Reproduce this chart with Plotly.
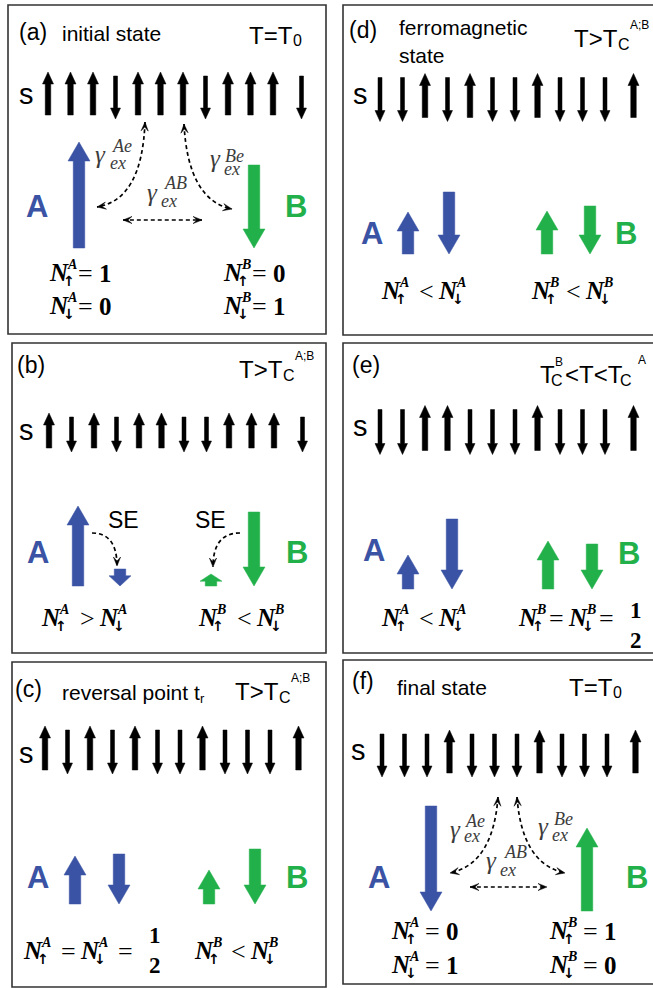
import plotly.graph_objects as go

# ---------------- data ----------------
PANEL_LABELS = ["(a)", "(b)", "(c)", "(d)", "(e)", "(f)"]
PANEL_TITLES = [["initial state"], [], ["reversal point t"], ["ferromagnetic", "state"], [], ["final state"]]
TEMPERATURE = ["T0", "Tc", "Tc", "Tc", "TcBA", "T0"]
SPIN_ROWS = ["↑↑↑↓↑↑↑↓↑↑↑↓",
             "↑↓↑↓↑↑↓↓↑↑↑↓",
             "↑↓↑↓↑↓↓↑↓↓↓↑",
             "↓↓↑↓↑↓↓↑↓↓↓↑",
             "↓↓↑↑↓↓↓↑↓↓↓↑",
             "↓↓↓↑↓↓↓↑↓↓↓↑"]
# lengths of the sublattice moment arrows (px)
A_UP = [106, 80, 48, 42, 34, 0]
A_DOWN = [0, 17, 50, 62, 70, 105]
B_UP = [0, 12, 34, 43, 48, 83]
B_DOWN = [83, 74, 55, 48, 45, 0]
EQ_A = [["N A ↑ = 1", "N A ↓ = 0"], ["N A ↑ > N A ↓"], ["N A ↑ = N A ↓ = 1/2"],
        ["N A ↑ < N A ↓"], ["N A ↑ < N A ↓"], ["N A ↑ = 0", "N A ↓ = 1"]]
EQ_B = [["N B ↑ = 0", "N B ↓ = 1"], ["N B ↑ < N B ↓"], ["N B ↑ < N B ↓"],
        ["N B ↑ < N B ↓"], ["N B ↑ = N B ↓ = 1/2"], ["N B ↑ = 1", "N B ↓ = 0"]]
EXCHANGE = ["Ae", "Be", "AB"]

# ---------------- layout (pixel positions) ----------------
LAYOUT = [
    dict(box=(8, 5, 326, 334), label=(17, 32), titles=[(60, 33)], temp=(247, 35), spin=(48, 95.5, 43), s=(26, 96),
         base=248, ax=(79, None, None, 254), letters=((37, 206), (296, 206)),
         eqA=(48, [272.5, 305.5]), eqB=(222, [272.5, 305.5]), spA=9, spB=9, fdy=0),
    dict(box=(12, 343, 326, 653), label=(15, 365), titles=[], temp=(237, 369.5), spin=(49, 432.5, 35), s=(26, 432),
         base=586, ax=(78, 120, 211, 254), letters=((38, 552), (297, 552)),
         eqA=(40, [617.5]), eqB=(197, [617.5]), spA=19, spB=19, fdy=0),
    dict(box=(12, 662, 326, 987), label=(13, 689), titles=[(60, 692.5)], temp=(233, 691.5), spin=(45, 750, 44), s=(26, 755),
         base=904, ax=(75, 119, 209, 255), letters=((38, 877), (297, 877)),
         eqA=(22, [950.5]), eqB=(193, [950.5]), spA=18, spB=17, fdy=0),
    dict(box=(343, 5, 662, 335), label=(347, 30), titles=[(397, 27.5), (397, 55.5)], temp=(572, 38.5), spin=(380, 97.5, 44),
         s=(360, 96), base=254, ax=(408, 449, 547, 590), letters=((372, 233), (626, 233)),
         eqA=(380, [290.5]), eqB=(530, [290.5]), spA=18, spB=15, fdy=0),
    dict(box=(343, 343, 662, 653), label=(350, 365), titles=[], temp=(538, 374), spin=(380, 430, 45), s=(360, 428),
         base=589, ax=(408, 452, 548, 592), letters=((374, 550), (629, 553)),
         eqA=(380, [617.5]), eqB=(517, [617.5]), spA=18, spB=11, fdy=8),
    dict(box=(343, 660, 662, 984), label=(350, 681), titles=[(395, 687.5)], temp=(567, 687), spin=(382, 753.5, 43),
         s=(358, 752), base=911, ax=(None, 431, 587, None), letters=((379, 877), (637, 877)),
         eqA=(390, [930.5, 964.5]), eqB=(548, [930.5, 964.5]), spA=14, spB=14, fdy=0),
]
# exchange labels: (gamma right x, gamma glyph centre y, sup x, sup y, sub x, sub y)
GAMMA_POS = {0: [(107, 159.5, 110, 146, 108, 165), (222, 164, 223, 156, 222, 171), (159, 197.5, 162, 182.5, 159, 203)],
             5: [(462, 835, 463, 821, 462, 838), (550, 832, 552, 819, 550, 837), (498, 866, 502, 852, 498, 872)]}
# dashed curves: (start, control, end, head at start, head at end)
DASHES = {0: [((145, 122), (142, 200), (97, 207), True, True),
              ((184, 124), (188, 200), (232, 209), True, True),
              ((123, 220), (162, 220), (202, 220), True, True)],
          5: [((498, 797), (493, 864), (450, 873), True, True),
              ((517, 797), (522, 864), (565, 873), True, True),
              ((470, 887), (508, 887), (547, 887), True, True)],
          1: [((92, 533), (117, 533), (117, 566), False, True),
              ((240, 533), (213, 533), (213, 567), False, True)]}
SE_POS = [(123, 520), (210, 520)]

BLUE = "#3a53a4"
GREEN = "#22b04b"
SANS = "Liberation Sans, Arial, sans-serif"
SERIF = "Liberation Serif, Times New Roman, serif"
ARROWF = "DejaVu Sans, sans-serif"

shapes, anns = [], []


def text(x, y, s, size, color="black", family=SANS, xa="left", ya="middle"):
    anns.append(dict(x=x, y=y, xref="x", yref="y", text=s, showarrow=False,
                     font=dict(size=size, color=color, family=family), xanchor=xa, yanchor=ya))


def poly(pts, color):
    path = "M " + " L ".join(f"{x:.2f},{y:.2f}" for x, y in pts) + " Z"
    shapes.append(dict(type="path", path=path, xref="x", yref="y", fillcolor=color,
                       line=dict(color=color, width=0.5)))


def block_arrow(xc, y_tail, y_tip, sw, hw, hl, color):
    s = 1 if y_tip > y_tail else -1
    hl = min(hl, 0.6 * abs(y_tip - y_tail))
    yb = y_tip - s * hl
    poly([(xc - sw / 2, y_tail), (xc - sw / 2, yb), (xc - hw / 2, yb), (xc, y_tip),
          (xc + hw / 2, yb), (xc + sw / 2, yb), (xc + sw / 2, y_tail)], color)


def stealth(tip, frm):
    dx, dy = tip[0] - frm[0], tip[1] - frm[1]
    n = (dx * dx + dy * dy) ** 0.5
    ux, uy = dx / n, dy / n
    px, py = -uy, ux
    L, w = 9, 3.6
    poly([tip, (tip[0] - L * ux + w * px, tip[1] - L * uy + w * py),
          (tip[0] - 0.55 * L * ux, tip[1] - 0.55 * L * uy),
          (tip[0] - L * ux - w * px, tip[1] - L * uy - w * py)], "black")


def draw_eq(x0, yc, s, sp, fdy):
    toks = s.split()
    i, x, cursor = 0, x0, x0
    while i < len(toks):
        t = toks[i]
        if t == "N":
            text(x - 1, yc, "<b><i>N</i></b>", 25, family=SERIF)
            text(x + 24, yc - 8, f"<b><i>{toks[i + 1]}</i></b>", 14, family=SERIF, xa="center")
            text(x + 21, yc + 8.5, f"<b>{toks[i + 2]}</b>", 14, family=ARROWF, xa="center")
            cursor = x + 28
            i += 3
        else:
            opx = cursor + sp
            text(opx, yc + 1, t, 26, family=SERIF, xa="center")
            nxt = toks[i + 1]
            if nxt == "N":
                x = opx + 11
                i += 1
            elif nxt == "1/2":
                fx = opx + 30
                text(fx, yc - 15 + fdy, "<b>1</b>", 23, family=SERIF, xa="center")
                text(fx, yc + 15 + fdy, "<b>2</b>", 23, family=SERIF, xa="center")
                i += 2
            else:
                text(opx + 20, yc + 1, f"<b>{nxt}</b>", 25, family=SERIF, xa="center")
                i += 2


for k, L in enumerate(LAYOUT):
    x0, y0, x1, y1 = L["box"]
    shapes.append(dict(type="rect", x0=x0, y0=y0, x1=x1, y1=y1, xref="x", yref="y",
                       line=dict(color="#333333", width=1.6), fillcolor="rgba(0,0,0,0)"))
    # header
    text(L["label"][0], L["label"][1], PANEL_LABELS[k], 23)
    for (tx, ty), t in zip(L["titles"], PANEL_TITLES[k]):
        text(tx, ty, t, 21)
    if k == 2:
        tx, ty = L["titles"][0]
        text(tx + 138, ty + 6, "r", 13)
    tx, ty = L["temp"]
    kind = TEMPERATURE[k]
    if kind == "T0":
        text(tx, ty, "T=T", 24)
        text(tx + 44, ty + 5, "0", 16)
    elif kind == "Tc":
        text(tx, ty, "T>T", 24)
        text(tx + 43.5, ty + 6, "C", 16)
        text(tx + 56, ty - 14, "A;B", 12)
    else:
        text(tx, ty, "T", 24)
        text(tx + 11, ty + 6, "C", 16)
        text(tx + 15, ty - 12, "B", 12)
        text(tx + 25, ty, "&lt;T&lt;T", 24)
        text(tx + 80, ty + 6, "C", 16)
        text(tx + 98, ty - 14, "A", 12)
    # spin row
    sx0, syc, sl = L["spin"]
    text(L["s"][0], L["s"][1] - 2.5, "s", 29, xa="center")
    for i, c in enumerate(SPIN_ROWS[k]):
        xc = sx0 + i * 22.5 + (6 if i == 11 else 0)
        if c == "↑":
            block_arrow(xc, syc + sl / 2 - 2, syc - sl / 2 - 2, 5.5, 11, 12, "black")
        else:
            block_arrow(xc, syc - sl / 2 + 2, syc + sl / 2 + 2, 4, 10, 11, "black")
    # sublattice moments
    b = L["base"]
    lens = [A_UP[k], A_DOWN[k], B_UP[k], B_DOWN[k]]
    cols = [BLUE, BLUE, GREEN, GREEN]
    for j, (xc, ln, col) in enumerate(zip(L["ax"], lens, cols)):
        if xc is None or ln == 0:
            continue
        if j in (0, 2):
            block_arrow(xc, b, b - ln, 11.5, 22, 19, col)
        else:
            block_arrow(xc, b - ln, b, 11.5, 22, 19, col)
    (ax_, ay_), (bx_, by_) = L["letters"]
    text(ax_, ay_, "<b>A</b>", 31, color=BLUE, xa="center")
    text(bx_, by_, "<b>B</b>", 31, color=GREEN, xa="center")
    # equations
    ex, eys = L["eqA"]
    for s, ey in zip(EQ_A[k], eys):
        draw_eq(ex, ey, s, L["spA"], L["fdy"])
    ex, eys = L["eqB"]
    for s, ey in zip(EQ_B[k], eys):
        draw_eq(ex, ey, s, L["spB"], L["fdy"])
    # exchange paths
    for (p0, c, p2, h0, h2) in DASHES.get(k, []):
        shapes.append(dict(type="path", xref="x", yref="y",
                           path=f"M {p0[0]},{p0[1]} Q {c[0]},{c[1]} {p2[0]},{p2[1]}",
                           line=dict(color="black", width=1.7, dash="4px,3px")))
        if h0:
            stealth(p0, c)
        if h2:
            stealth(p2, c)
    for lab, (gx, gy, ux, uy, bx, by) in zip(EXCHANGE, GAMMA_POS.get(k, [])):
        text(gx + 1, gy - 5.5, "<i>γ</i>", 25, color="#3c3c3c", family=SERIF, xa="right")
        text(ux, uy, f"<i>{lab}</i>", 18, color="#3c3c3c", family=SERIF)
        text(bx, by - 2, "<i>ex</i>", 18, color="#3c3c3c", family=SERIF)
    if k == 1:
        for (sx, sy) in SE_POS:
            text(sx, sy, "SE", 23, xa="center")

fig = go.Figure(go.Scatter(x=[0, 653], y=[0, 988], mode="markers", marker=dict(opacity=0),
                           hoverinfo="skip", showlegend=False))
fig.update_layout(width=653, height=988, margin=dict(l=0, r=0, t=0, b=0),
                  paper_bgcolor="white", plot_bgcolor="white", shapes=shapes, annotations=anns,
                  showlegend=False)
fig.update_xaxes(range=[0, 653], visible=False, fixedrange=True)
fig.update_yaxes(range=[988, 0], visible=False, fixedrange=True)
fig.write_html("out.html", config={"displayModeBar": False},
               post_script="document.body.style.margin='0';document.body.style.overflow='hidden';")
